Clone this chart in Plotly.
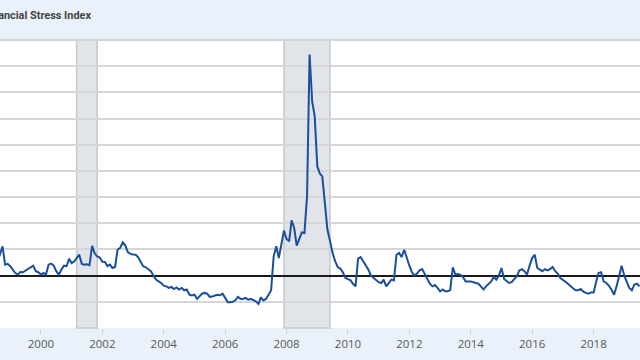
import pandas as pd
import plotly.graph_objects as go

# Monthly values, Aug 1998 .. Jul 2019
start_month = "1998-08-01"
values = [
    0.50,
    0.85, 1.12, 0.42, 0.45, 0.36, 0.23, 0.10, 0.04, 0.14, 0.13, 0.20, 0.27,
    0.33, 0.38, 0.17, 0.13, 0.04, 0.10, 0.04, 0.42, 0.46, 0.38, 0.17, 0.04,
    0.23, 0.38, 0.36, 0.64, 0.48, 0.55, 0.67, 0.80, 0.45, 0.42, 0.43, 0.40,
    1.14, 0.85, 0.73, 0.69, 0.53, 0.52, 0.36, 0.42, 0.29, 0.33, 0.99, 1.06,
    1.27, 1.15, 0.89, 0.83, 0.81, 0.80, 0.71, 0.55, 0.36, 0.32, 0.23, 0.17,
    0.00, -0.15, -0.22, -0.28, -0.38, -0.41, -0.47, -0.43, -0.51, -0.45, -0.53, -0.47,
    -0.56, -0.53, -0.73, -0.76, -0.73, -0.89, -0.79, -0.69, -0.66, -0.69, -0.81, -0.80,
    -0.76, -0.73, -0.75, -0.69, -0.85, -1.02, -1.02, -1.00, -0.94, -0.81, -0.88, -0.89,
    -0.85, -0.92, -0.89, -0.92, -0.98, -1.08, -0.83, -0.95, -0.89, -0.73, -0.56, 0.74,
    1.12, 0.67, 1.25, 1.72, 1.40, 1.31, 2.11, 1.82, 1.15, 1.40, 1.65, 1.63,
    3.03, 8.44, 6.65, 6.08, 4.17, 3.89, 3.79, 2.77, 1.76, 1.33, 0.87, 0.55,
    0.33, 0.27, 0.13, -0.09, -0.13, -0.18, -0.31, -0.41, 0.65, 0.71, 0.55, 0.39,
    0.23, 0.00, -0.09, -0.15, -0.25, -0.28, -0.15, -0.41, -0.28, -0.15, -0.18, 0.80,
    0.87, 0.71, 0.99, 0.64, 0.38, 0.13, 0.00, 0.08, 0.20, 0.25, 0.06, -0.13,
    -0.31, -0.41, -0.36, -0.47, -0.60, -0.53, -0.60, -0.60, -0.55, 0.32, 0.04, 0.06,
    0.03, -0.06, -0.22, -0.22, -0.22, -0.25, -0.28, -0.31, -0.41, -0.53, -0.41, -0.31,
    -0.22, -0.05, -0.15, 0.00, 0.29, -0.13, -0.22, -0.28, -0.25, -0.15, -0.03, 0.20,
    0.25, 0.17, 0.04, 0.38, 0.67, 0.80, 0.30, 0.23, 0.17, 0.25, 0.20, 0.25,
    0.33, 0.17, 0.08, -0.09, -0.15, -0.23, -0.31, -0.41, -0.48, -0.56, -0.56, -0.51,
    -0.61, -0.66, -0.69, -0.64, -0.64, -0.22, 0.10, 0.13, -0.22, -0.28, -0.38, -0.53,
    -0.73, -0.41, 0.04, 0.38, 0.00, -0.25, -0.47, -0.56, -0.34, -0.31, -0.41,
]
dates = pd.date_range(start_month, periods=len(values), freq="MS")

recessions = [("2001-03-01", "2001-11-01"), ("2007-12-01", "2009-06-01")]

title_text = "St. Louis Fed Financial Stress Index"
x_range = ["1998-09-01", "2019-07-07"]
y_range = [-2, 9]

fig = go.Figure()
fig.add_trace(go.Scatter(x=dates, y=values, mode="lines",
                         line=dict(color="#1b4f9b", width=2), showlegend=False))

for a, b in recessions:
    fig.add_shape(type="rect", xref="x", yref="paper", x0=a, x1=b, y0=0, y1=1,
                  fillcolor="#e1e5ea", line=dict(color="#c6c9cd", width=1.5),
                  layer="below")

fig.add_annotation(text="<b>" + title_text + "</b>", xref="paper", yref="paper",
                   x=93 / 640, y=(328 - 15.7) / 288, xanchor="right", yanchor="middle",
                   showarrow=False, font=dict(family="Roboto", size=10.9, color="#444444"))

fig.update_layout(
    width=640, height=360,
    margin=dict(l=0, r=0, t=40, b=32),
    paper_bgcolor="#eaf1fa",
    plot_bgcolor="#ffffff",
    font=dict(family="Open Sans", size=11.5, color="#595959"),
)
fig.update_xaxes(type="date", range=x_range, dtick="M24", tick0="2000-01-01",
                 tickformat="%Y", showgrid=False, ticks="outside", ticklen=5,
                 tickcolor="#cfd3d8", tickwidth=1, showline=False, zeroline=False)
fig.update_yaxes(range=y_range, dtick=1, showgrid=True, gridcolor="#d6d6d6",
                 gridwidth=1.5, zeroline=True, zerolinecolor="#1a1a1a",
                 zerolinewidth=1.5, showticklabels=False, ticks="")
fig.add_shape(type="line", xref="paper", yref="paper", x0=0, x1=1, y0=1, y1=1,
              line=dict(color="#cfd4da", width=2), layer="above")

fig.write_html("out.html")
